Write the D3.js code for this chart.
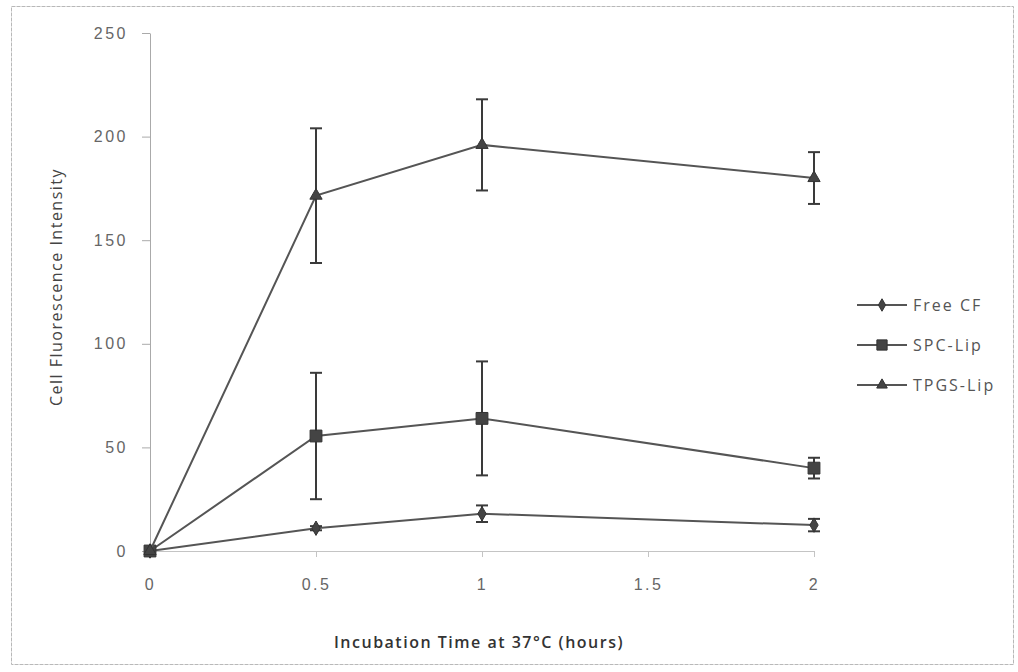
<!DOCTYPE html>
<html>
<head>
<meta charset="utf-8">
<script src="https://cdn.jsdelivr.net/npm/d3@7"></script>
<style>
  html, body { margin: 0; padding: 0; background: #fff; }
  svg { display: block; font-family: "Open Sans", sans-serif; }
  .axis text { fill: #666; font-size: 16px; letter-spacing: 2.5px; }
  .axis path, .axis line { stroke: #aaa; }
  .x-axis path, .x-axis line { stroke: #c4c4c4; }
  .legend text { fill: #555; font-size: 16px; letter-spacing: 2px; }
</style>
</head>
<body>
<div id="chart"></div>
<script>
// values
const hours = [0, 0.5, 1, 2];
const xTicks = [0, 0.5, 1, 1.5, 2];
const yTicks = [0, 50, 100, 150, 200, 250];

const freeCF   = [0, 11, 18, 12.5];
const freeCFSd = [0, 1, 4, 3];
const spcLip   = [0, 55.5, 64, 40];
const spcLipSd = [0, 30.5, 27.5, 5];
const tpgsLip  = [0, 171.5, 196, 180];
const tpgsLipSd = [0, 32.5, 22, 12.5];

const seriesNames = ['Free CF', 'SPC-Lip', 'TPGS-Lip'];

const width = 1018, height = 672;

const svg = d3.select('#chart').append('svg')
  .attr('width', width).attr('height', height);

// scanned outer frame
svg.append('rect')
  .attr('x', 11.5).attr('y', 6.5)
  .attr('width', 1002).attr('height', 658)
  .attr('fill', 'none')
  .attr('stroke', '#b8b8b8')
  .attr('stroke-dasharray', '4,1');

const x = d3.scaleLinear().domain([0, 2]).range([150, 814]);
const y = d3.scaleLinear().domain([0, 250]).range([551, 33]);

// axes
svg.append('g')
  .attr('class', 'axis x-axis')
  .attr('transform', `translate(0,${y(0)})`)
  .call(d3.axisBottom(x).tickValues(xTicks).tickFormat(d3.format('')).tickSize(6).tickSizeOuter(0).tickPadding(22));

svg.append('g')
  .attr('class', 'axis')
  .attr('transform', `translate(${x(0)},0)`)
  .call(d3.axisLeft(y).tickValues(yTicks).tickSize(8).tickSizeOuter(0).tickPadding(14));

// axis titles
svg.append('text')
  .attr('x', 479).attr('y', 648)
  .attr('text-anchor', 'middle')
  .attr('fill', '#333')
  .attr('font-size', 16)
  .attr('font-weight', 600)
  .attr('letter-spacing', 1.5)
  .text('Incubation Time at 37°C (hours)');

svg.append('text')
  .attr('transform', 'translate(62,287) rotate(-90)')
  .attr('text-anchor', 'middle')
  .attr('fill', '#444')
  .attr('font-size', 16)
  .attr('letter-spacing', 1.5)
  .text('Cell Fluorescence Intensity');

// series
const series = [
  { name: seriesNames[0], values: freeCF, sd: freeCFSd, symbol: d3.symbolDiamond, size: 60 },
  { name: seriesNames[1], values: spcLip, sd: spcLipSd, symbol: d3.symbolSquare, size: 140 },
  { name: seriesNames[2], values: tpgsLip, sd: tpgsLipSd, symbol: d3.symbolTriangle, size: 65 }
];

const line = d3.line().x(d => x(d.h)).y(d => y(d.v));
const ink = '#3a3a3a';

series.forEach(s => {
  const pts = hours.map((h, i) => ({ h, v: s.values[i], sd: s.sd[i] }));
  const g = svg.append('g');

  g.append('path')
    .datum(pts)
    .attr('fill', 'none')
    .attr('stroke', '#555')
    .attr('stroke-width', 2)
    .attr('d', line);

  // error bars
  const eb = g.selectAll('g.err')
    .data(pts.filter(d => d.sd > 0))
    .join('g').attr('class', 'err')
    .attr('stroke', ink).attr('stroke-width', 2);
  eb.append('line')
    .attr('x1', d => x(d.h)).attr('x2', d => x(d.h))
    .attr('y1', d => y(d.v + d.sd)).attr('y2', d => y(d.v - d.sd));
  eb.append('line')
    .attr('x1', d => x(d.h) - 6).attr('x2', d => x(d.h) + 6)
    .attr('y1', d => y(d.v + d.sd)).attr('y2', d => y(d.v + d.sd));
  eb.append('line')
    .attr('x1', d => x(d.h) - 6).attr('x2', d => x(d.h) + 6)
    .attr('y1', d => y(d.v - d.sd)).attr('y2', d => y(d.v - d.sd));

  g.selectAll('path.pt')
    .data(pts)
    .join('path').attr('class', 'pt')
    .attr('transform', d => `translate(${x(d.h)},${y(d.v)})`)
    .attr('d', d3.symbol(s.symbol, s.size))
    .attr('fill', '#444')
    .attr('stroke', '#333')
    .attr('stroke-width', 1);
});

// legend
const legend = svg.append('g').attr('class', 'legend');
const legendY = d3.scalePoint().domain(seriesNames).range([305, 385]);
series.forEach(s => {
  const ly = legendY(s.name);
  legend.append('line')
    .attr('x1', 857).attr('x2', 907)
    .attr('y1', ly).attr('y2', ly)
    .attr('stroke', '#555').attr('stroke-width', 2);
  legend.append('path')
    .attr('transform', `translate(882,${ly})`)
    .attr('d', d3.symbol(s.symbol, s.size * 0.75))
    .attr('fill', '#444').attr('stroke', '#333');
  legend.append('text')
    .attr('x', 913).attr('y', ly)
    .attr('dy', '0.35em')
    .text(s.name);
});
</script>
</body>
</html>
